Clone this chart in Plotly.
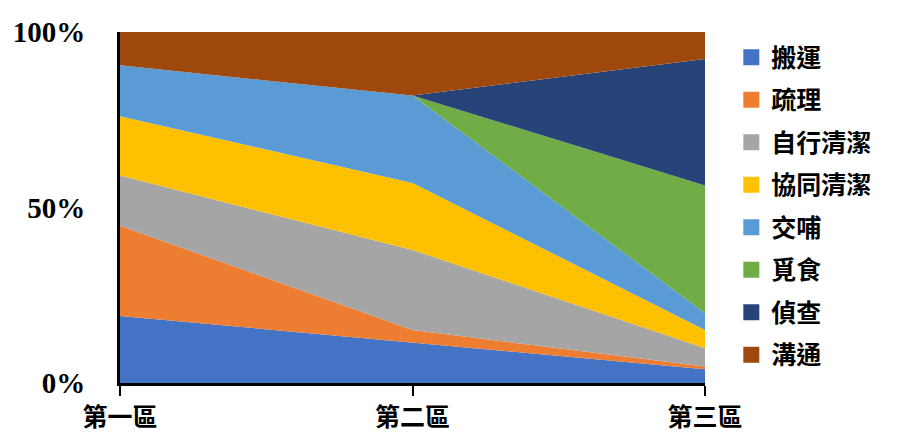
import plotly.graph_objects as go

zones = ["第一區", "第二區", "第三區"]
behaviours = ["搬運", "疏理", "自行清潔", "協同清潔", "交哺", "覓食", "偵查", "溝通"]
carrying = [19.1, 11.5, 3.9]
grooming = [25.7, 3.6, 0.8]
self_cleaning = [14.3, 22.8, 5.2]
allo_cleaning = [16.9, 19.1, 5.2]
trophallaxis = [14.5, 24.9, 4.8]
foraging = [0.0, 0.0, 36.4]
scouting = [0.0, 0.0, 36.0]
communication = [9.5, 18.1, 7.7]

series = [carrying, grooming, self_cleaning, allo_cleaning,
          trophallaxis, foraging, scouting, communication]
colors = ["#4472C4", "#ED7D31", "#A5A5A5", "#FFC000",
          "#5B9BD5", "#70AD47", "#264478", "#9E480E"]

cjk = "Noto Sans CJK TC"

fig = go.Figure()
for name, vals, col in zip(behaviours, series, colors):
    fig.add_trace(go.Scatter(
        x=zones, y=vals, name=name, legendgroup=name, showlegend=False,
        mode="lines", stackgroup="one", groupnorm="percent",
        line=dict(width=0, color=col), fillcolor=col,
    ))

# square swatches for the legend
for name, col in zip(behaviours, colors):
    fig.add_trace(go.Scatter(
        x=[None], y=[None], name=name, legendgroup=name, mode="markers",
        marker=dict(symbol="square", size=17, color=col),
    ))

fig.update_layout(
    width=907, height=440,
    margin=dict(l=120, r=202, t=32, b=57, autoexpand=False),
    paper_bgcolor="white", plot_bgcolor="white",
    showlegend=True,
    legend=dict(
        x=1.045, y=0.993, xanchor="left", yanchor="top",
        traceorder="grouped", tracegroupgap=7,
        font=dict(family=cjk, size=25, color="black", weight="bold"),
        itemwidth=30, maxheight=420,
    ),
    xaxis=dict(
        type="category", range=[0, 2], automargin=False,
        showline=True, linecolor="black", linewidth=3,
        ticks="outside", ticklen=10, tickwidth=2, tickcolor="black",
        tickfont=dict(family=cjk, size=25, color="black", weight="bold"),
        showgrid=False, zeroline=False,
    ),
    yaxis=dict(
        range=[0, 100], tickvals=[0, 50, 100], automargin=False,
        ticktext=["0%", "50%", "100%"],
        showline=True, linecolor="black", linewidth=3,
        ticks="", ticklabelstandoff=26,
        tickfont=dict(family="Liberation Serif", size=29, color="black",
                      weight="bold"),
        showgrid=False, zeroline=False,
    ),
)

fig.write_html("out.html")
